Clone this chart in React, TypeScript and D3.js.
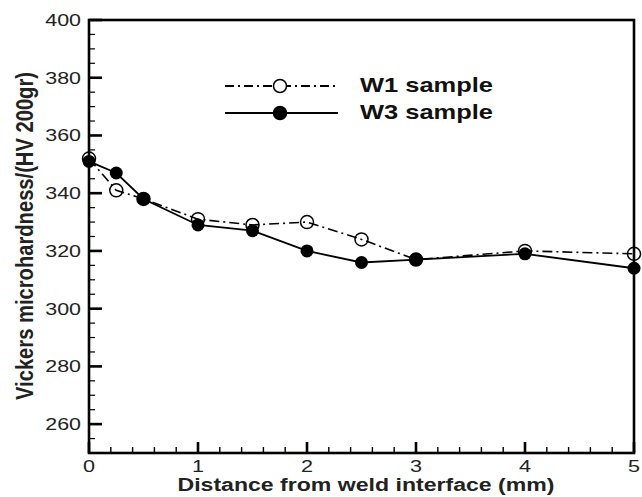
import React, { useRef, useEffect } from "react";
import * as d3 from "d3";

// distance from weld interface (mm)
const distances = [0, 0.25, 0.5, 1, 1.5, 2, 2.5, 3, 4, 5];
const w1Values = [352, 341, 338, 331, 329, 330, 324, 317, 320, 319];
const w3Values = [351, 347, 338, 329, 327, 320, 316, 317, 319, 314];
const xTicks = [0, 1, 2, 3, 4, 5];
const yTicks = [260, 280, 300, 320, 340, 360, 380, 400];

const App = () => {
  const svgRef = useRef<SVGSVGElement>(null);

  useEffect(() => {
    const width = 642;
    const height = 497;
    const margins = { left: 89, right: 8, top: 20, bottom: 44 };

    const svg = d3.select(svgRef.current).attr("width", width).attr("height", height);
    svg.selectAll("*").remove();

    const xScale = d3.scaleLinear().domain([0, 5]).range([margins.left, width - margins.right]);
    const yScale = d3.scaleLinear().domain([250, 400]).range([height - margins.bottom, margins.top]);

    const font = "Liberation Sans, Arial, Helvetica, sans-serif";
    const x0 = xScale(0);
    const x1 = xScale(5);
    const y0 = yScale(250);
    const y1 = yScale(400);
    const isMajor = (list: number[], d: number) => list.some((t) => Math.abs(t - d) < 1e-6);

    // frame
    svg
      .append("rect")
      .attr("x", x0)
      .attr("y", y1)
      .attr("width", x1 - x0)
      .attr("height", y0 - y1)
      .attr("fill", "none")
      .attr("stroke", "#000")
      .attr("stroke-width", 2.6);

    // x ticks, pointing inward
    const xMinor = d3.range(0, 5.0001, 0.2);
    svg
      .append("g")
      .selectAll("line")
      .data(xMinor)
      .join("line")
      .attr("x1", (d) => xScale(d))
      .attr("x2", (d) => xScale(d))
      .attr("y1", y0)
      .attr("y2", (d) => (isMajor(xTicks, d) ? y0 - 11 : y0 - 6))
      .attr("stroke", "#000")
      .attr("stroke-width", (d) => (isMajor(xTicks, d) ? 2.6 : 1.4));

    svg
      .append("g")
      .selectAll("text")
      .data(xTicks)
      .join("text")
      .attr("transform", (d) => `translate(${xScale(d)}, ${y0 + 19}) scale(1.35, 1)`)
      .attr("text-anchor", "middle")
      .attr("font-family", font)
      .attr("font-size", 16)
      .attr("fill", "#222")
      .text((d) => d);

    // y ticks, pointing inward
    const yMinor = d3.range(250, 400.0001, 5);
    svg
      .append("g")
      .selectAll("line")
      .data(yMinor)
      .join("line")
      .attr("x1", x0)
      .attr("x2", (d) => (d % 20 === 0 ? x0 + 13 : x0 + 6))
      .attr("y1", (d) => yScale(d))
      .attr("y2", (d) => yScale(d))
      .attr("stroke", "#000")
      .attr("stroke-width", (d) => (d % 20 === 0 ? 2.6 : 1.2));

    svg
      .append("g")
      .selectAll("text")
      .data(yTicks)
      .join("text")
      .attr("transform", (d) => `translate(${x0 - 8}, ${yScale(d) + 6}) scale(1.3, 1)`)
      .attr("text-anchor", "end")
      .attr("font-family", font)
      .attr("font-size", 16.5)
      .attr("fill", "#222")
      .text((d) => d);

    // axis titles
    svg
      .append("text")
      .attr("x", 366)
      .attr("y", height - 6)
      .attr("text-anchor", "middle")
      .attr("font-family", font)
      .attr("font-weight", "bold")
      .attr("font-size", 18)
      .attr("fill", "#222")
      .attr("textLength", 377)
      .attr("lengthAdjust", "spacingAndGlyphs")
      .text("Distance from weld interface (mm)");

    svg
      .append("text")
      .attr("transform", `translate(33, 236) scale(1.3, 1) rotate(-90)`)
      .attr("text-anchor", "middle")
      .attr("font-family", font)
      .attr("font-weight", "bold")
      .attr("font-size", 19)
      .attr("fill", "#222")
      .attr("textLength", 328)
      .attr("lengthAdjust", "spacingAndGlyphs")
      .text("Vickers microhardness/(HV 200gr)");

    const line = d3
      .line<number>()
      .x((d, i) => xScale(distances[i]))
      .y((d) => yScale(d));

    // W1 series
    svg
      .append("path")
      .datum(w1Values)
      .attr("d", line)
      .attr("fill", "none")
      .attr("stroke", "#000")
      .attr("stroke-width", 1.6)
      .attr("stroke-dasharray", "10,4,2,4");

    // W3 series
    svg
      .append("path")
      .datum(w3Values)
      .attr("d", line)
      .attr("fill", "none")
      .attr("stroke", "#000")
      .attr("stroke-width", 1.8);

    svg
      .append("g")
      .selectAll("circle")
      .data(w3Values)
      .join("circle")
      .attr("cx", (d, i) => xScale(distances[i]))
      .attr("cy", (d) => yScale(d))
      .attr("r", 6.5)
      .attr("fill", "#000");

    svg
      .append("g")
      .selectAll("circle")
      .data(w1Values)
      .join("circle")
      .attr("cx", (d, i) => xScale(distances[i]))
      .attr("cy", (d) => yScale(d))
      .attr("r", 6.5)
      .attr("fill", "none")
      .attr("stroke", "#000")
      .attr("stroke-width", 1.5);

    // legend
    const legend = [
      { label: "W1 sample", dash: "9,4,2,4", filled: false, y: 86 },
      { label: "W3 sample", dash: null, filled: true, y: 113 },
    ];
    const lg = svg.append("g");
    legend.forEach((item) => {
      lg.append("line")
        .attr("x1", 225)
        .attr("x2", 338)
        .attr("y1", item.y)
        .attr("y2", item.y)
        .attr("stroke", "#000")
        .attr("stroke-width", 1.8)
        .attr("stroke-dasharray", item.dash);
      lg.append("circle")
        .attr("cx", 280)
        .attr("cy", item.y)
        .attr("r", 6.5)
        .attr("fill", item.filled ? "#000" : "#fff")
        .attr("stroke", "#000")
        .attr("stroke-width", 1.5);
      lg.append("text")
        .attr("x", 360)
        .attr("y", item.y + 6)
        .attr("font-family", font)
        .attr("font-weight", "bold")
        .attr("font-size", 21)
        .attr("fill", "#111")
        .attr("textLength", 133)
        .attr("lengthAdjust", "spacingAndGlyphs")
        .text(item.label);
    });
  }, []);

  return (
    <div style={{ position: "absolute", left: 0, top: 0 }}>
      <svg ref={svgRef} style={{ display: "block" }} />
    </div>
  );
};

export default App;
